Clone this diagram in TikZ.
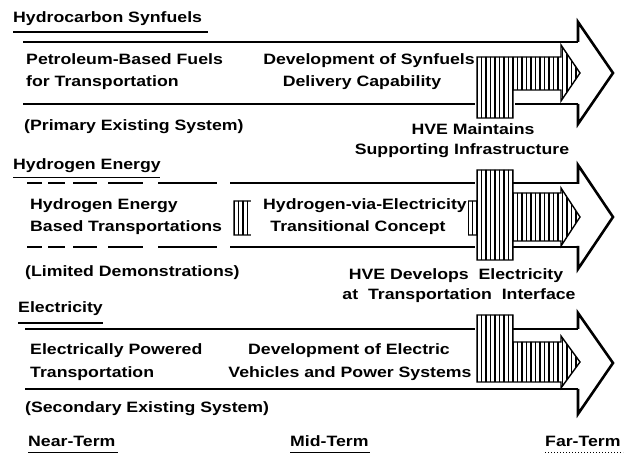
\documentclass[tikz,border=0pt]{standalone}
\usepackage{fontspec}
\setmainfont{Liberation Sans}[FakeStretch=1.18]
\usetikzlibrary{patterns.meta}

\begin{document}
\begin{tikzpicture}[x=1pt,y=-1pt,
  txt/.style={font=\fontsize{15}{18}\selectfont\bfseries, inner sep=0pt, anchor=base west},
  ctxt/.style={txt, anchor=base},
  shaft/.style={line width=2.4pt},
  head/.style={line width=2.6pt, line join=miter},
  hatch/.style={line width=1.4pt, pattern={Lines[angle=90,distance=4.5pt,line width=1.5pt]}},
  uline/.style={line width=1pt}]
\useasboundingbox (0,0) rectangle (633,454);

% hydrocarbon synfuels
\node[txt] (hc) at (13,23) {Hydrocarbon Synfuels};
\draw[line width=1.6pt] (13,32) -- (208,32);
\draw[shaft] (23,42) -- (578,42);
\draw[shaft] (23,104) -- (475,104) (515,104) -- (578,104);
\draw[head] (578,42) -- (578,22) -- (613,73) -- (578,124) -- (578,104);
\draw[hatch] (477,57) -- (561,57) -- (561,45) -- (580,73) -- (561,101) -- (561,90) -- (513,90) -- (513,118) -- (477,118) -- cycle;
\node[txt] (pbf1) at (26,65) {Petroleum-Based Fuels};
\node[txt] (pbf2) at (26,87) {for Transportation};
\node[ctxt] (dsf1) at (369,65) {Development of Synfuels};
\node[ctxt] (dsf2) at (362,87) {Delivery Capability};
\node[txt] (pes) at (24,131) {(Primary Existing System)};
\node[ctxt] (hvm1) at (473,135) {HVE Maintains};
\node[ctxt] (hvm2) at (462,155) {Supporting Infrastructure};

% hydrogen energy
\node[txt] (he) at (13,170) {Hydrogen Energy};
\draw[uline] (13,178) -- (160,178);
\foreach \y in {183,247} {
  \foreach \a/\b in {27/42,48/65,73/97,108/143,158/217}
    \draw[line width=2pt] (\a,\y) -- (\b,\y);
  \draw[shaft] (230,\y) -- (475,\y) (513,\y) -- (578,\y);
}
\draw[head] (578,184) -- (578,165) -- (613,217) -- (578,269) -- (578,246);
\draw[hatch] (234,201) -- (477,201) -- (477,170) -- (513,170) -- (513,193) -- (561,193) -- (561,188)
  -- (580,217) -- (561,246) -- (561,241) -- (513,241) -- (513,260) -- (477,260) -- (477,235) -- (234,235) -- cycle;
\fill[white] (251,197) rectangle (468,240);
\node[txt] (het1) at (30,210) {Hydrogen Energy};
\node[txt] (het2) at (30,232) {Based Transportations};
\node[ctxt] (hve1) at (365,210) {Hydrogen-via-Electricity};
\node[ctxt] (hve2) at (358,232) {Transitional Concept};
\node[txt] (ld) at (25,277) {(Limited Demonstrations)};
\node[ctxt] (hvd1) at (456,280) {HVE Develops\ \ Electricity};
\node[ctxt] (hvd2) at (459,300) {at\ \ Transportation\ \ Interface};

% electricity
\node[txt] (el) at (18,313) {Electricity};
\draw[line width=1.6pt] (18,323) -- (103,323);
\draw[shaft] (25,329) -- (475,329) (512,329) -- (578,329);
\draw[shaft] (25,389) -- (578,389);
\draw[head] (578,329) -- (578,313) -- (613,363) -- (578,414) -- (578,389);
\draw[hatch] (477,315) -- (513,315) -- (513,342) -- (561,342) -- (561,336) -- (580,362) -- (561,388) -- (561,382) -- (477,382) -- cycle;
\node[txt] (ep1) at (30,355) {Electrically Powered};
\node[txt] (ep2) at (30,378) {Transportation};
\node[ctxt] (dev1) at (349,355) {Development of Electric};
\node[ctxt] (dev2) at (350,378) {Vehicles and Power Systems};
\node[txt] (ses) at (25,413) {(Secondary Existing System)};

% time scale
\node[txt] (nt) at (28,447) {Near-Term};
\node[txt] (mt) at (290,447) {Mid-Term};
\node[txt] (ft) at (545,447) {Far-Term};
\draw[uline] (28,452.5) -- (118,452.5);
\draw[uline] (290,452.5) -- (370,452.5);
\draw[uline, dotted] (545,452.5) -- (623,452.5);
\end{tikzpicture}
\end{document}
